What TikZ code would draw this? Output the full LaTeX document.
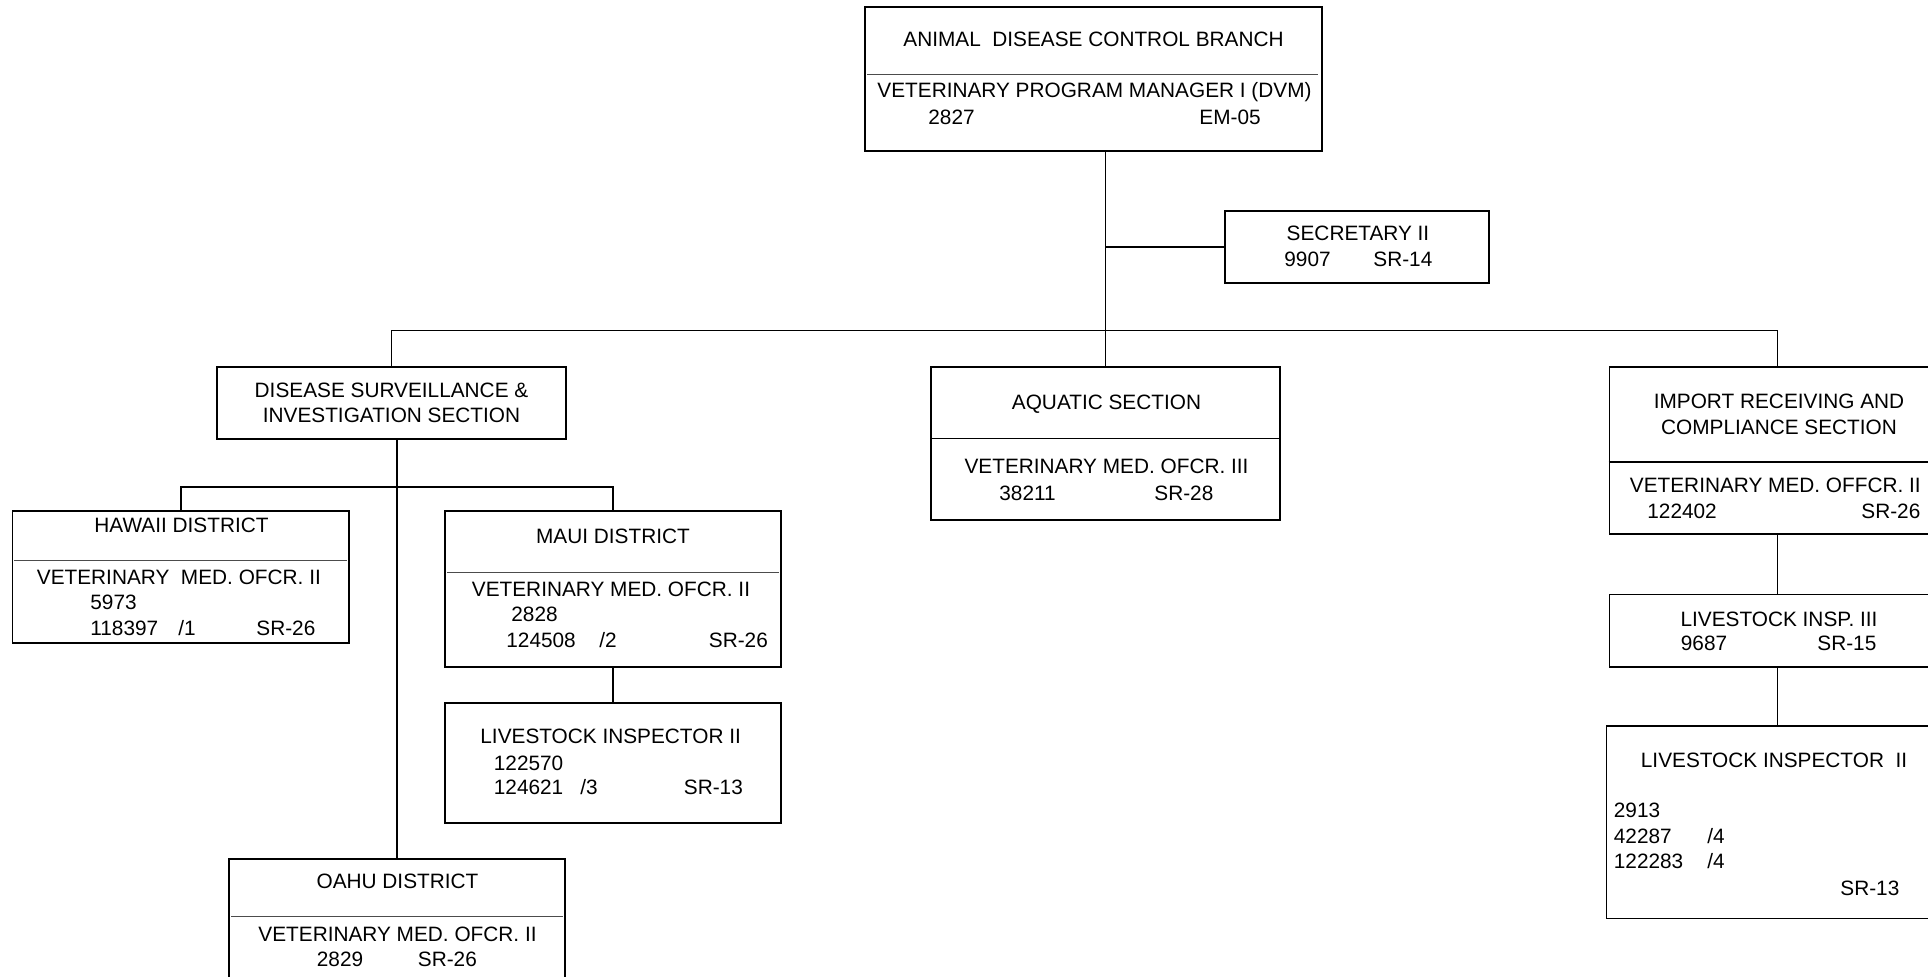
\documentclass[tikz,border=0pt]{standalone}
\usepackage{fontspec}
\setmainfont{Liberation Sans}
\usetikzlibrary{fit}
\frenchspacing

\tikzset{
	box/.style = {draw, line width = 0.9pt, inner sep = 0pt},
	link/.style = {line width = 0.9pt},
	thinrule/.style = {line width = 0.5pt, black!70},
	thickrule/.style = {line width = 0.9pt},
	txt/.style = {anchor = base west, inner sep = 0pt},
	ctr/.style = {anchor = base, inner sep = 0pt}
}

\begin{document}
\begin{tikzpicture}[x = 0.5pt, y = -0.5pt, font = \fontsize{10.4}{12.75}\selectfont]

	% Frame
	
	\useasboundingbox (0, 0) rectangle (1928, 977);
	\clip (0, 0) rectangle (1928, 977);
	
	\def\busY{330.5}	% Main bus height
	\def\subY{487}		% District bus height
	
	% Boxes
	
	\node [box, fit = {(865, 7) (1322, 151)}] (branch) {};
	\node [box, fit = {(1225, 211) (1489, 283)}] (secretary) {};
	\node [box, fit = {(217, 367) (566, 439)}] (disease) {};
	\node [box, fit = {(931, 367) (1280, 520)}] (aquatic) {};
	\node [box, fit = {(1609.5, 367) (1945.5, 534)}] (import) {};
	\node [box, fit = {(12.5, 511) (349, 643)}] (hawaii) {};
	\node [box, fit = {(445, 511) (781, 667)}] (maui) {};
	\node [box, fit = {(445, 703) (781, 823)}] (inspA) {};
	\node [box, fit = {(229, 859) (565, 1010)}] (oahu) {};
	\node [box, fit = {(1609.5, 594.5) (1945.5, 667)}] (inspIII) {};
	\node [box, fit = {(1606.5, 726) (1948.5, 918.5)}] (inspB) {};
	
	% Dividers
	
	\foreach \a / \b / \y in {867 / 1318 / 75, 14 / 347 / 561, 447 / 779 / 572.5, 231 / 563 / 916}
	{
		\draw [thinrule] (\a, \y) -- (\b, \y);
	}
	
	\draw [thickrule] (aquatic.west |- 0, 438.5) -- (aquatic.east |- 0, 438.5);
	\draw [thickrule] (import.west |- 0, 462) -- (import.east |- 0, 462);
	
	% Connectors
	
	\coordinate (bus) at (0, \busY);
	\coordinate (subbus) at (0, \subY);
	
	\draw [link] (branch.south -| aquatic.north) -- (aquatic.north);
	\draw [link] (secretary.west) -- (secretary.west -| aquatic.north);
	\draw [link] (disease.north) |- (bus -| import.north) -- (import.north);
	\draw [link] (disease.south -| oahu.north) -- (oahu.north);
	\draw [link] (hawaii.north) |- (subbus -| maui.north) -- (maui.north);
	\draw [link] (maui.south) -- (maui.south |- inspA.north);
	\draw [link] (import.south) -- (inspIII.north);
	\draw [link] (inspIII.south) -- (inspIII.south |- inspB.north);
	
	% Branch + secretary
	
	\node [ctr] (branch-t) at (1093.5, 47) {ANIMAL\ \ DISEASE CONTROL BRANCH};
	\node [ctr] (branch-p) at (1094.5, 98) {VETERINARY PROGRAM MANAGER I (DVM)};
	\node [txt] (branch-n) at (928, 125) {2827};
	\node [txt] (branch-g) at (1199, 125) {EM-05};
	
	\node [ctr] (secretary-p) at (1358, 241) {SECRETARY II};
	\node [txt] (secretary-n) at (1284, 267) {9907};
	\node [txt] (secretary-g) at (1373, 267) {SR-14};
	
	% Sections
	
	\node [ctr] (disease-t1) at (391.5, 397.5) {DISEASE SURVEILLANCE \&};
	\node [ctr] (disease-t2) at (391.5, 422.5) {INVESTIGATION SECTION};
	
	\node [ctr] (aquatic-t) at (1106.5, 410) {AQUATIC SECTION};
	\node [ctr] (aquatic-p) at (1106.5, 474) {VETERINARY MED. OFCR. III};
	\node [txt] (aquatic-n) at (999, 501) {38211};
	\node [txt] (aquatic-g) at (1154, 501) {SR-28};
	
	\node [ctr] (import-t1) at (1779, 409) {IMPORT RECEIVING AND};
	\node [ctr] (import-t2) at (1779, 435) {COMPLIANCE SECTION};
	\node [txt] (import-p) at (1629.5, 493) {VETERINARY MED. OFFCR. II};
	\node [txt] (import-n) at (1647, 519) {122402};
	\node [txt] (import-g) at (1861, 519) {SR-26};
	
	% Districts
	
	\node [ctr] (hawaii-t) at (181.5, 533) {HAWAII DISTRICT};
	\node [txt] (hawaii-p) at (36.5, 584.5) {VETERINARY\ \ MED. OFCR. II};
	\node [txt] (hawaii-n1) at (90, 609.5) {5973};
	\node [txt] (hawaii-n2) at (90, 635.5) {118397};
	\node [txt] (hawaii-f) at (178, 635.5) {/1};
	\node [txt] (hawaii-g) at (256, 635.5) {SR-26};
	
	\node [ctr] (maui-t) at (613, 544) {MAUI DISTRICT};
	\node [txt] (maui-p) at (471.5, 596.5) {VETERINARY MED. OFCR. II};
	\node [txt] (maui-n1) at (511, 622) {2828};
	\node [txt] (maui-n2) at (506, 647.5) {124508};
	\node [txt] (maui-f) at (599, 647.5) {/2};
	\node [txt] (maui-g) at (708.5, 647.5) {SR-26};
	
	\node [txt] (inspA-p) at (480, 744) {LIVESTOCK INSPECTOR II};
	\node [txt] (inspA-n1) at (493.5, 771) {122570};
	\node [txt] (inspA-n2) at (493.5, 795) {124621};
	\node [txt] (inspA-f) at (580, 795) {/3};
	\node [txt] (inspA-g) at (683.5, 795) {SR-13};
	
	\node [ctr] (oahu-t) at (397.5, 889) {OAHU DISTRICT};
	\node [ctr] (oahu-p) at (397.5, 941) {VETERINARY MED. OFCR. II};
	\node [txt] (oahu-n) at (316.5, 966) {2829};
	\node [txt] (oahu-g) at (417.5, 966) {SR-26};
	
	% Import inspectors
	
	\node [ctr] (inspIII-p) at (1779, 626.5) {LIVESTOCK INSP. III};
	\node [txt] (inspIII-n) at (1680.5, 651) {9687};
	\node [txt] (inspIII-g) at (1817, 651) {SR-15};
	
	\node [txt] (inspB-p) at (1640.5, 767.5) {LIVESTOCK INSPECTOR\ \ II};
	\node [txt] (inspB-n1) at (1613.5, 818) {2913};
	\node [txt] (inspB-n2) at (1613.5, 843.5) {42287};
	\node [txt] (inspB-f2) at (1707, 843.5) {/4};
	\node [txt] (inspB-n3) at (1613.5, 869) {122283};
	\node [txt] (inspB-f3) at (1707, 869) {/4};
	\node [txt] (inspB-g) at (1840, 895) {SR-13};

\end{tikzpicture}
\end{document}
